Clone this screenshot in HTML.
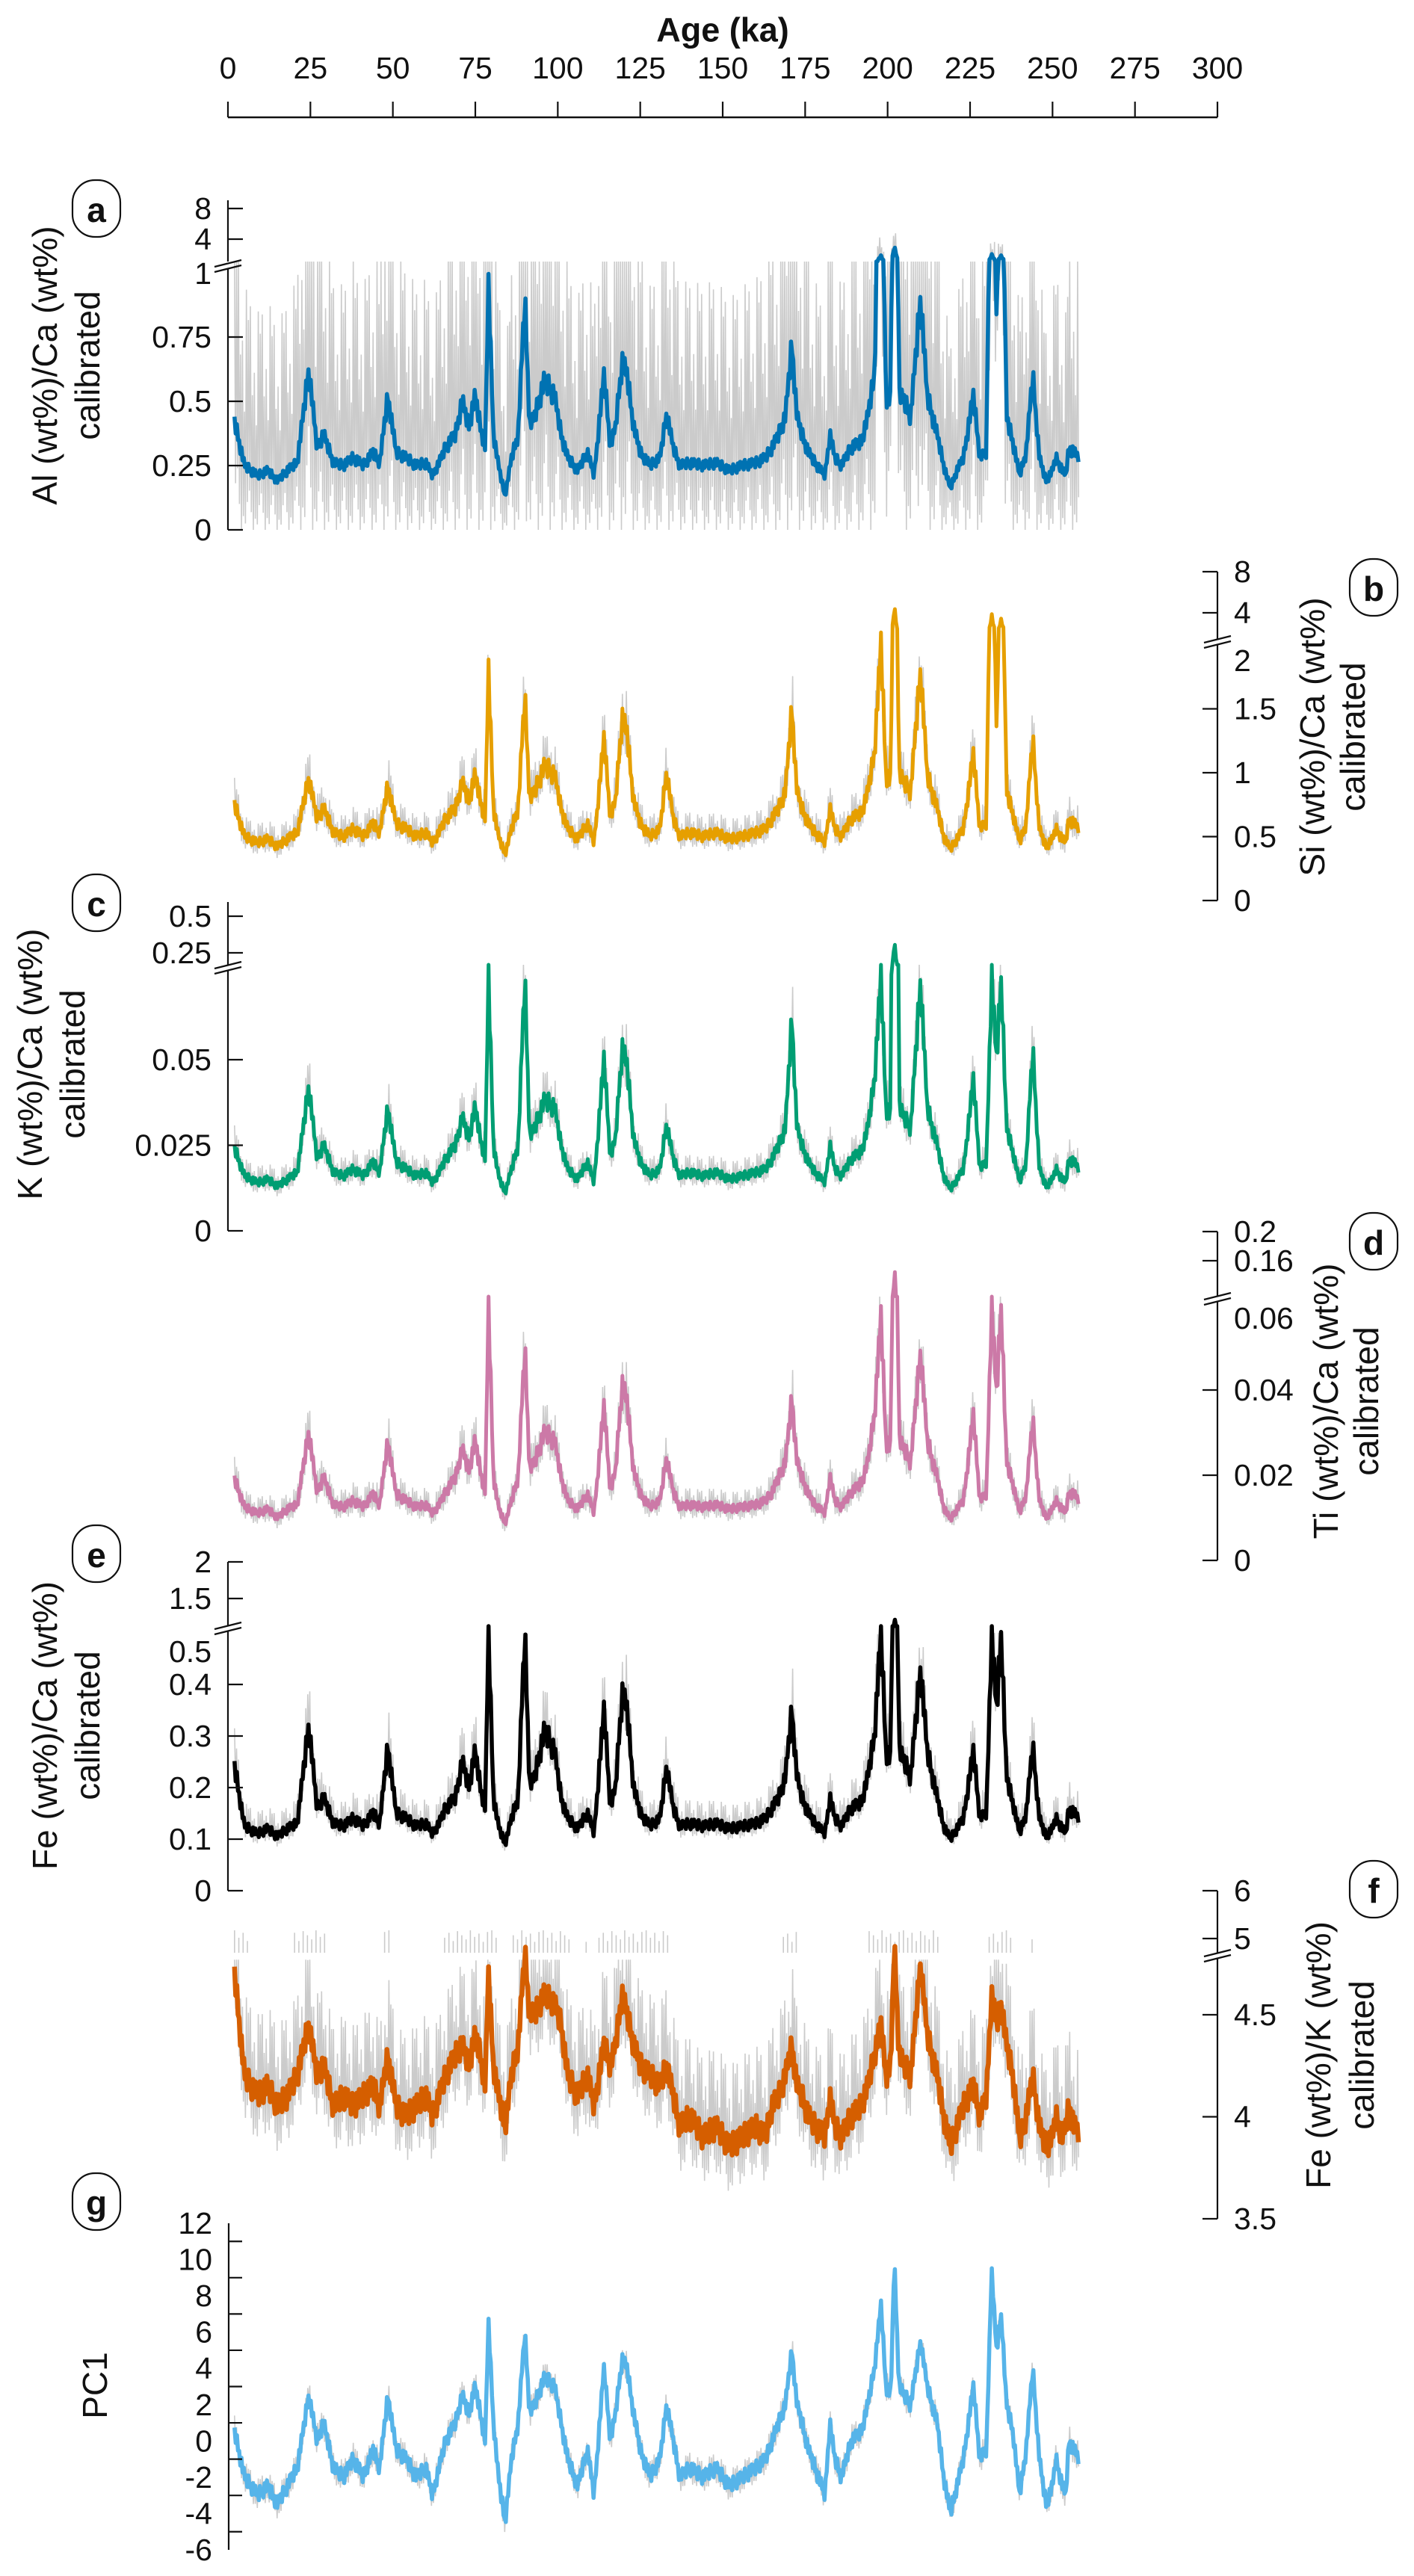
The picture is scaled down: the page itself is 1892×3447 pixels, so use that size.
<!DOCTYPE html>
<html><head><meta charset="utf-8">
<style>
html,body{margin:0;padding:0;background:#fff;}
svg{display:block;font-family:"Liberation Sans",Arial,sans-serif;}
</style></head>
<body>
<svg id="chart" width="1892" height="3447" viewBox="0 0 1892 3447" xmlns="http://www.w3.org/2000/svg">
<rect x="0" y="0" width="1892" height="3447" fill="#fff"/>
<g id="gray-layer"></g>
<g id="line-layer"></g>
<g id="axis-layer"></g>
</svg>
<script>
const ages=[2,5,9,12,15,18,21,24.5,27,29,32,35,38,41,44,46,48.5,51,54,57,60,62,64,66,69,71,73,75,76.5,78,79,80.5,82,84,86,88,90,91.5,93,96,99,101,103,106,109,111,114,116,117.5,119.5,121,123,125,128,131,133,135,137,140,144,148,152,156,160,163,165,167,169,171,172.5,174,176,178,181,182.5,184,186,189,192,194,196,198,199.5,201,202,203.5,205,207,210,212,215,217,219,221,223,226,228,230,231.5,233,234.5,236,238,240,242,244,246,248,250,251,253,254,255,256.5,258];
const alCa=[.42,.25,.21,.23,.19,.23,.26,.62,.32,.37,.26,.25,.28,.25,.3,.26,.52,.3,.28,.25,.26,.21,.26,.32,.37,.5,.4,.52,.4,.32,.95,.37,.25,.13,.28,.37,.9,.4,.44,.58,.52,.37,.28,.23,.3,.21,.6,.32,.4,.65,.6,.4,.3,.25,.28,.45,.32,.25,.26,.25,.26,.23,.25,.26,.28,.32,.37,.44,.72,.44,.37,.3,.26,.21,.37,.28,.25,.32,.34,.44,.6,1.8,.52,.5,3,.52,.5,.44,.9,.52,.37,.25,.16,.23,.28,.52,.28,.3,2.0,.8,1.9,.44,.34,.21,.3,.6,.28,.19,.23,.28,.23,.21,.32,.3,.28];
const siCa=[.75,.5,.45,.48,.42,.48,.53,.95,.64,.72,.53,.5,.56,.5,.6,.53,.9,.6,.56,.5,.53,.45,.53,.64,.72,.92,.78,.98,.78,.64,1.8,.72,.5,.36,.56,.72,1.6,.78,.85,1.05,.98,.72,.56,.48,.6,.45,1.26,.64,.78,1.42,1.3,.78,.6,.5,.56,1.0,.64,.5,.53,.5,.53,.48,.5,.53,.56,.64,.72,.85,1.5,.85,.72,.6,.53,.45,.72,.56,.5,.64,.68,.85,1.15,2.0,.98,.92,4.5,.98,.92,.85,1.8,.98,.72,.5,.4,.48,.56,1.14,.56,.6,3.8,1.3,3.5,.85,.68,.45,.6,1.26,.56,.42,.48,.56,.48,.45,.64,.6,.56];
const kCa=[.024,.016,.014,.015,.013,.015,.017,.042,.021,.025,.017,.016,.018,.016,.02,.017,.036,.02,.018,.016,.017,.014,.017,.021,.025,.033,.027,.036,.027,.021,.074,.025,.016,.011,.018,.025,.074,.027,.03,.038,.036,.025,.018,.015,.02,.014,.05,.021,.027,.053,.048,.027,.02,.016,.018,.031,.021,.016,.017,.016,.017,.015,.016,.017,.018,.021,.025,.03,.062,.03,.025,.02,.017,.014,.025,.018,.016,.021,.023,.03,.044,.074,.036,.033,.32,.036,.033,.03,.073,.036,.025,.016,.012,.015,.018,.044,.018,.02,.074,.05,.074,.03,.023,.014,.02,.053,.018,.013,.015,.018,.015,.014,.021,.02,.018];
const tiCa=[.019,.0125,.011,.012,.01,.012,.013,.03,.016,.0195,.013,.0125,.014,.0125,.0155,.013,.028,.0155,.014,.0125,.013,.011,.013,.016,.0195,.026,.021,.028,.021,.016,.06,.0195,.0125,.0085,.014,.0195,.05,.021,.023,.03,.028,.0195,.014,.012,.0155,.011,.036,.016,.021,.041,.037,.021,.0155,.0125,.014,.024,.016,.0125,.013,.0125,.013,.012,.0125,.013,.014,.016,.0195,.023,.038,.023,.0195,.0155,.013,.011,.0195,.014,.0125,.016,.018,.023,.034,.057,.028,.026,.15,.028,.026,.023,.049,.028,.0195,.0125,.0095,.012,.014,.034,.014,.0155,.06,.039,.06,.023,.018,.011,.0155,.033,.014,.01,.012,.014,.012,.011,.016,.0155,.014];
const feCa=[.24,.125,.11,.12,.105,.12,.13,.32,.16,.18,.13,.125,.14,.125,.15,.13,.28,.15,.14,.125,.13,.11,.13,.16,.18,.25,.2,.27,.2,.16,.5,.18,.125,.09,.14,.18,.5,.2,.22,.31,.27,.18,.14,.12,.15,.11,.35,.16,.2,.38,.35,.2,.15,.125,.14,.24,.16,.125,.13,.125,.13,.12,.125,.13,.14,.16,.18,.22,.35,.22,.18,.15,.13,.11,.18,.14,.125,.16,.17,.22,.3,.5,.27,.25,1.25,.27,.25,.22,.43,.27,.18,.125,.1,.12,.14,.27,.14,.15,.5,.35,.5,.22,.17,.11,.15,.28,.14,.105,.12,.14,.12,.11,.16,.15,.14];
const feK=[4.7,4.2,4.1,4.15,4.05,4.1,4.2,4.45,4.2,4.25,4.05,4.1,4.05,4.1,4.15,4.05,4.3,4.05,4.0,4.05,4.1,4.0,4.1,4.2,4.3,4.35,4.25,4.4,4.3,4.15,4.7,4.25,4.1,3.95,4.2,4.35,4.8,4.5,4.5,4.6,4.55,4.45,4.2,4.1,4.2,4.05,4.35,4.25,4.35,4.6,4.5,4.35,4.25,4.2,4.15,4.25,4.1,3.95,4.0,3.9,3.95,3.85,3.9,3.95,3.9,4.05,4.1,4.2,4.35,4.15,4.1,4.0,3.95,3.9,4.1,3.95,3.9,4.0,4.05,4.15,4.3,4.45,4.2,4.25,4.85,4.3,4.25,4.2,4.75,4.4,4.2,4.0,3.85,3.95,4.05,4.15,4.0,4.1,4.6,4.45,4.55,4.35,4.2,3.88,4.0,4.2,3.95,3.85,3.9,4.0,3.9,3.95,4.05,3.95,3.92];
const pc1=[0.5,-2,-3,-2.5,-3.5,-2.5,-1.5,2.5,0,1,-1.5,-2,-1,-2,-0.5,-1.5,2.5,-0.5,-1,-2,-1.5,-3,-1.5,0,1,2.5,1.5,3,1.5,0,6.5,1,-2,-4.5,-1,1,6,1.5,2,3.5,3,1,-1,-2.5,-0.5,-3,4,0,1.5,4.5,4,1.5,-0.5,-2,-1,2,0,-2,-1.5,-2,-1.5,-2.5,-2,-1.5,-1,0,1,2,5,2,1,-0.5,-1.5,-3,1,-1,-2,0,0.5,2,4,7.5,3,2.5,10,3,2.5,2,5.5,3,1,-2,-4,-2.5,-1,3,-1,-0.5,9.5,5,7,2,0.5,-3,-0.5,4,-1,-3.5,-2.5,-1,-2.5,-3,0,-0.5,-1];
const xTicks=[0,25,50,75,100,125,150,175,200,225,250,275,300];

const NS="http://www.w3.org/2000/svg";
const svg=document.getElementById('chart');
const grayL=document.getElementById('gray-layer');
const lineL=document.getElementById('line-layer');
const axL=document.getElementById('axis-layer');
function mk(tag,attrs,parent){const e=document.createElementNS(NS,tag);for(const k in attrs)e.setAttribute(k,attrs[k]);(parent||axL).appendChild(e);return e;}
function xs(a){return 305+a*(1629-305)/300;}
function interp(vals,t){
  if(t<=ages[0])return vals[0];
  for(let i=1;i<ages.length;i++){if(t<=ages[i]){const f=(t-ages[i-1])/(ages[i]-ages[i-1]);return vals[i-1]+f*(vals[i]-vals[i-1]);}}
  return vals[vals.length-1];
}

const panels=[
 {id:'a',vals:alCa,color:'#0072b2',lw:5.5,side:'L',ax:305,
  lo:{v0:0,y0:709,v1:1,y1:365,max:1,top:360},hi:{v0:4,y0:320,v1:8,y1:279,bot:350,top:268},brk:356,
  gHi:v=>v*2.6+0.3,gLo:v=>Math.max(0,v-0.7),gTop:1.02,
  ticks:[[0,'0'],[0.25,'0.25'],[0.5,'0.5'],[0.75,'0.75']],labOnly:[[366,'1']],upTicks:[[4,'4'],[8,'8']],
  ylab:['Al (wt%)/Ca (wt%)','calibrated'],ylx:[60,117],yly:489,box:[129,279]},
 {id:'b',vals:siCa,color:'#e69f00',lw:5,side:'R',ax:1629,
  lo:{v0:0,y0:1205,v1:1,y1:1034,max:2.05,top:862},hi:{v0:4,y0:820,v1:8,y1:765,bot:856,top:765},brk:859,
  gHi:v=>v*1.2+0.06,gLo:v=>v*0.86-0.03,gTop:2.1,
  ticks:[[0,'0'],[0.5,'0.5'],[1,'1'],[1.5,'1.5']],labOnly:[[884,'2']],upTicks:[[4,'4'],[8,'8']],
  ylab:['Si (wt%)/Ca (wt%)','calibrated'],ylx:[1756,1810],yly:986,box:[1838,786]},
 {id:'c',vals:kCa,color:'#009e73',lw:5,side:'L',ax:305,
  lo:{v0:0,y0:1647,v1:0.05,y1:1418,max:0.076,top:1298},hi:{v0:0.25,y0:1275,v1:0.5,y1:1226,bot:1291,top:1207},brk:1295,
  gHi:v=>v*1.2+0.002,gLo:v=>v*0.85-0.001,gTop:0.077,
  ticks:[[0,'0'],[0.025,'0.025'],[0.05,'0.05']],labOnly:[],upTicks:[[0.25,'0.25'],[0.5,'0.5']],
  ylab:['K (wt%)/Ca (wt%)','calibrated'],ylx:[40,97],yly:1424,box:[129,1208]},
 {id:'d',vals:tiCa,color:'#cc79a7',lw:5,side:'R',ax:1629,
  lo:{v0:0,y0:2088,v1:0.04,y1:1860,max:0.061,top:1741},hi:{v0:0.16,y0:1687,v1:0.2,y1:1648,bot:1735,top:1648},brk:1738,
  gHi:v=>v*1.2+0.0015,gLo:v=>v*0.85-0.001,gTop:0.062,
  ticks:[[0,'0'],[0.02,'0.02'],[0.04,'0.04']],labOnly:[[1764,'0.06']],upTicks:[[0.16,'0.16'],[0.2,'0.2']],
  ylab:['Ti (wt%)/Ca (wt%)','calibrated'],ylx:[1774,1828],yly:1875,box:[1838,1661]},
 {id:'e',vals:feCa,color:'#000000',lw:5.5,side:'L',ax:305,
  lo:{v0:0,y0:2530,v1:0.1,y1:2461,max:0.51,top:2182},hi:{v0:1.5,y0:2139,v1:2,y1:2090,bot:2176,top:2090},brk:2179,
  gHi:v=>v*1.25+0.015,gLo:v=>v*0.86-0.005,gTop:0.5,
  ticks:[[0,'0'],[0.1,'0.1'],[0.2,'0.2'],[0.3,'0.3'],[0.4,'0.4']],labOnly:[[2210,'0.5']],upTicks:[[1.5,'1.5'],[2,'2']],
  ylab:['Fe (wt%)/Ca (wt%)','calibrated'],ylx:[60,117],yly:2309,box:[129,2079]},
 {id:'f',vals:feK,color:'#d55e00',lw:6.5,side:'R',ax:1629,
  lo:{v0:3.5,y0:2969,v1:4,y1:2832.5,max:4.78,top:2620},hi:{v0:5,y0:2594,v1:6,y1:2530,bot:2613,top:2530},brk:2617,
  gHi:v=>v+0.4,gLo:v=>v-0.22,gTop:4.77,
  ticks:[[3.5,'3.5'],[4,'4'],[4.5,'4.5']],labOnly:[],upTicks:[[5,'5'],[6,'6']],
  ylab:['Fe (wt%)/K (wt%)','calibrated'],ylx:[1764,1822],yly:2750,box:[1838,2528]},
 {id:'g',vals:pc1,color:'#56b4e9',lw:5.5,side:'L',ax:306,
  lo:{v0:-6,y0:3412,v1:12,y1:2975,max:99,top:2975},hi:null,brk:null,
  gHi:v=>v+0.9,gLo:v=>v-0.8,gTop:99,
  ticks:[],labOnly:[],upTicks:[],
  ylab:['PC1'],ylx:[127],yly:3192,box:[129,2946]}
];
function ymap(p,v){
  if(v<=p.lo.max||!p.hi){return p.lo.y0+(v-p.lo.v0)*(p.lo.y1-p.lo.y0)/(p.lo.v1-p.lo.v0);}
  let y=p.hi.y0+(v-p.hi.v0)*(p.hi.y1-p.hi.y0)/(p.hi.v1-p.hi.v0);
  return Math.max(Math.min(y,p.hi.bot),p.hi.top);
}
const noisePat=[1,0.55,0.85,0.35,0.95,0.7,0.45,1,0.6,0.8,0.3,0.9];
const smallPat=[0.6,-0.8,1,-0.4,0.3,-1,0.8,-0.5,0.9,-0.2];

panels.forEach(p=>{
  let pts=[];let k=0;
  for(let t=2;t<=258;t+=0.3){
    const v=interp(p.vals,t);
    const np=noisePat[k%noisePat.length];
    let g;
    if(k%2===0){let h=p.gHi(v);h=v+(h-v)*np;if(v<=p.lo.max&&h>p.gTop)h=p.gTop;g=ymap(p,h);}
    else{let l=p.gLo(v);l=v-(v-l)*np;g=ymap(p,l);}
    pts.push(xs(t).toFixed(1)+','+g.toFixed(1));k++;
  }
  const gl=mk('polyline',{points:pts.join(' '),fill:'none',stroke:'#cbcbcb','stroke-width':1.6},grayL);
  
  
  let lp=[];k=0;
  for(let t=2;t<=258;t+=0.35){
    const v=interp(p.vals,t);
    const amp=(p.id==='g')?0.4:(p.id==='f'?0.06:Math.abs(v)*0.08);
    const vv=v+amp*smallPat[k%smallPat.length];
    lp.push(xs(t).toFixed(1)+','+ymap(p,vv).toFixed(1));k++;
  }
  const ln=mk('polyline',{points:lp.join(' '),fill:'none',stroke:p.color,'stroke-width':p.lw,'stroke-linejoin':'round'},lineL);
  
  

  const ax=p.ax, dir=p.side==='L'?1:-1, tl=20;
  const ag=mk('g',{});
  
  
  const st={stroke:'#111','stroke-width':2.2,fill:'none'};
  mk('line',Object.assign({x1:ax,y1:p.lo.y0,x2:ax,y2:p.lo.top},st),ag);
  if(p.hi){
    mk('line',Object.assign({x1:ax,y1:p.hi.bot,x2:ax,y2:p.hi.top},st),ag);
    const b=p.brk;
    mk('line',Object.assign({x1:ax-18,y1:b+1,x2:ax+18,y2:b-8},st),ag);
    mk('line',Object.assign({x1:ax-18,y1:b+8,x2:ax+18,y2:b-1},st),ag);
  }
  const fs=41;
  const labX=p.side==='L'?ax-22:ax+22;
  const anchor=p.side==='L'?'end':'start';
  p.ticks.forEach(tk=>{
    const y=ymap(p,tk[0]);
    mk('line',Object.assign({x1:ax,y1:y,x2:ax+dir*tl,y2:y},st),ag);
    const tx=mk('text',{x:labX,y:y,'font-size':fs,'text-anchor':anchor,'dominant-baseline':'central',fill:'#111'},ag);
    tx.textContent=tk[1];
    
    
  });
  p.labOnly.forEach(tk=>{
    const tx=mk('text',{x:labX,y:tk[0],'font-size':fs,'text-anchor':anchor,'dominant-baseline':'central',fill:'#111'},ag);
    tx.textContent=tk[1];
    
    
  });
  p.upTicks.forEach(tk=>{
    const y=p.hi.y0+(tk[0]-p.hi.v0)*(p.hi.y1-p.hi.y0)/(p.hi.v1-p.hi.v0);
    mk('line',Object.assign({x1:ax,y1:y,x2:ax+dir*tl,y2:y},st),ag);
    const tx=mk('text',{x:labX,y:y,'font-size':fs,'text-anchor':anchor,'dominant-baseline':'central',fill:'#111'},ag);
    tx.textContent=tk[1];
    
    
  });
  p.ylab.forEach((s,i)=>{
    const x=p.ylx[i],y=p.yly;
    const tx=mk('text',{x:x,y:y,'font-size':46,'text-anchor':'middle','dominant-baseline':'central',fill:'#111',transform:'rotate(-90 '+x+' '+y+')'},ag);
    tx.textContent=s;
    
    
  });
  const bx=p.box[0],by=p.box[1];
  const bg=mk('g',{});
  
  
  mk('rect',{x:bx-32,y:by-38,width:64,height:76,rx:30,ry:30,fill:'#fff',stroke:'#111','stroke-width':2.2},bg);
  const lt=mk('text',{x:bx,y:by+2,'font-size':46,'font-weight':'bold','text-anchor':'middle','dominant-baseline':'central',fill:'#111'},bg);
  lt.textContent=p.id;
});

// sparse gray spikes above the break in panel f
(function(){
  const p=panels[5];
  const sg=mk('g',{},grayL);
  
  
  let k=0;
  for(let t=2;t<=258;t+=1.3){
    const v=interp(p.vals,t);
    if(v>4.15){
      const h=8+noisePat[k%noisePat.length]*22;
      mk('line',{x1:xs(t),y1:2613,x2:xs(t),y2:2613-h,stroke:'#cbcbcb','stroke-width':1.6},sg);
    }
    k++;
  }
})();

(function(){
  const p=panels[6];
  const ag=mk('g',{});
  
  
  for(let v=-5;v<=11;v+=2){const y=ymap(p,v);mk('line',{x1:306,y1:y,x2:324,y2:y,stroke:'#111','stroke-width':2.2},ag);}
  for(let v=-6;v<=12;v+=2){
    const tx=mk('text',{x:284,y:ymap(p,v),'font-size':41,'text-anchor':'end','dominant-baseline':'central',fill:'#111'},ag);
    tx.textContent=String(v);
    
    
  }
})();

(function(){
  const ag=mk('g',{});
  
  
  mk('line',{x1:xs(0),y1:157,x2:xs(300),y2:157,stroke:'#111','stroke-width':2.4},ag);
  xTicks.forEach(t=>{
    mk('line',{x1:xs(t),y1:157,x2:xs(t),y2:136,stroke:'#111','stroke-width':2.2},ag);
    const tx=mk('text',{x:xs(t),y:91,'font-size':41,'text-anchor':'middle','dominant-baseline':'central',fill:'#111'},ag);
    tx.textContent=String(t);
    
    
  });
  const ti=mk('text',{x:xs(150),y:40,'font-size':45,'font-weight':'bold','text-anchor':'middle','dominant-baseline':'central',fill:'#111'},ag);
  ti.textContent='Age (ka)';
  
  
})();
</script>
</body></html>
